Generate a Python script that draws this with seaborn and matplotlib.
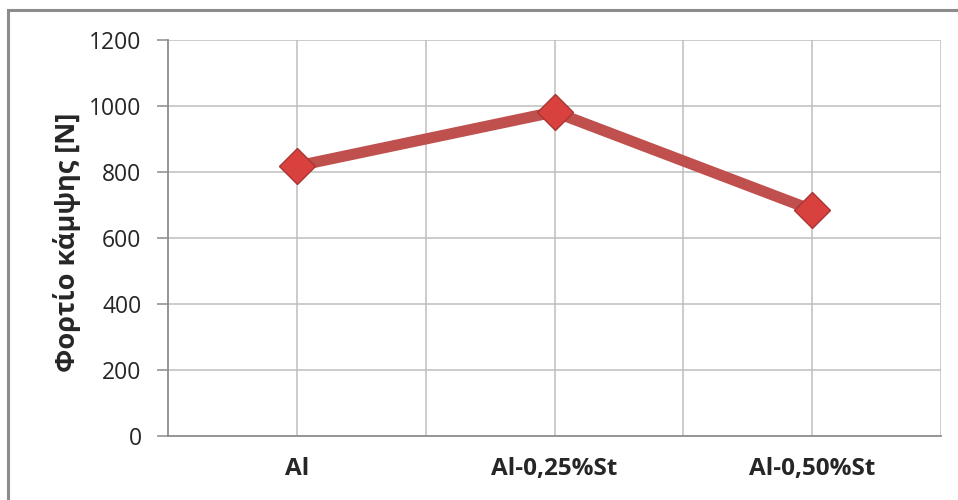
import matplotlib
matplotlib.use("Agg")
import matplotlib.pyplot as plt
import matplotlib.patches as mpatches
import seaborn as sns
import pandas as pd

categories = ["Al", "Al-0,25%St", "Al-0,50%St"]
load_n = [818, 982, 685]
y_ticks = [0, 200, 400, 600, 800, 1000, 1200]

df = pd.DataFrame({"material": categories, "load": load_n})

sns.set_theme(style="white")
plt.rcParams["font.family"] = ["Open Sans", "DejaVu Sans"]

fig = plt.figure(figsize=(9.58, 5.0), dpi=100)
ax = fig.add_axes([168 / 958, 1 - 436 / 500, (941 - 168) / 958, (436 - 40) / 500])

# outer chart frame
fig.patches.append(mpatches.Rectangle((8 / 958, -0.1), 1.2, 1 - 10 / 500 + 0.1,
                                      transform=fig.transFigure, fill=False,
                                      edgecolor="#8C8C8C", linewidth=2.2, zorder=0))

sns.lineplot(data=df, x="material", y="load", ax=ax, color="#C0504D",
             linewidth=8, marker="D", markersize=18,
             markerfacecolor="#D9413E", markeredgecolor="#A83532",
             markeredgewidth=1.0, zorder=5, sort=False)

ax.set_xlim(-0.5, 2.5)
ax.set_ylim(0, 1200)
ax.set_yticks(y_ticks)
ax.set_yticklabels([str(v) for v in y_ticks])

# gridlines at category centres and boundaries
for xv in [0, 0.5, 1, 1.5, 2, 2.5]:
    ax.axvline(xv, color="#BFBFBF", linewidth=1.1, zorder=1)
for yv in y_ticks[1:]:
    ax.axhline(yv, color="#BFBFBF", linewidth=1.1, zorder=1)

ax.set_xticks([0, 1, 2])
ax.set_xticklabels(categories, fontweight="bold", fontsize=17.5)
ax.tick_params(axis="x", length=0, pad=15)
ax.set_xticks([-0.5, 0.5, 1.5, 2.5], minor=True)
ax.tick_params(axis="x", which="minor", length=7, color="#8C8C8C", width=1.1, direction="out")
ax.tick_params(axis="y", length=8, color="#8C8C8C", width=1.1, labelsize=16.5,
               pad=11, direction="out", left=True)
for lbl in ax.get_yticklabels():
    lbl.set_color("#262626")

for side in ["top", "right"]:
    ax.spines[side].set_visible(False)
for side in ["left", "bottom"]:
    ax.spines[side].set_color("#8C8C8C")
    ax.spines[side].set_linewidth(1.3)

ax.set_xlabel("")
ax.set_ylabel("Φορτίο κάμψης [N]", fontweight="bold", fontsize=19.5)
ax.yaxis.set_label_coords(-0.113, 0.49)

fig.savefig("out.png", dpi=100)
